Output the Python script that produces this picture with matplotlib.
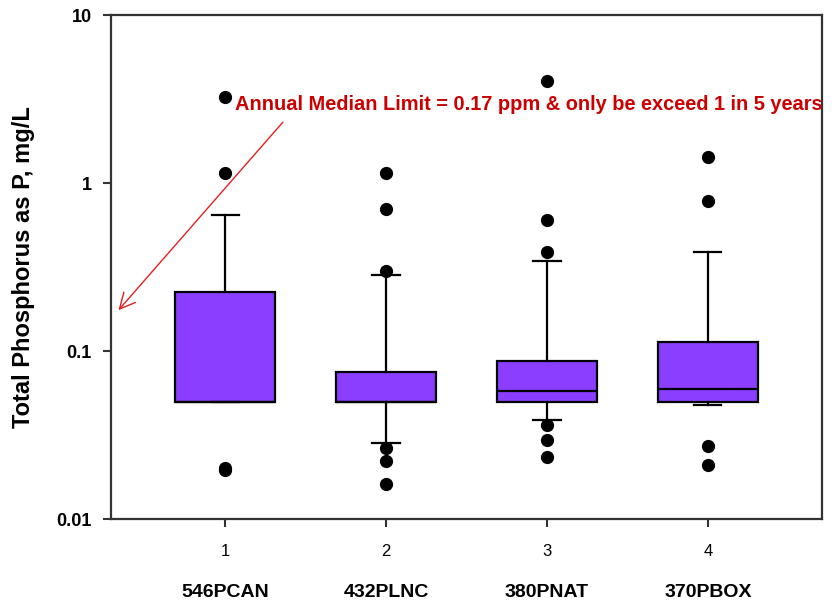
import matplotlib
matplotlib.use("Agg")
import matplotlib.pyplot as plt
from matplotlib.ticker import FixedLocator, FixedFormatter, NullLocator

# ---- data ----
positions = [1, 2, 3, 4]
site_names = ["546PCAN", "432PLNC", "380PNAT", "370PBOX"]
q1 = [0.05, 0.05, 0.05, 0.05]
medians = [0.05, 0.05, 0.058, 0.059]
q3 = [0.225, 0.075, 0.087, 0.113]
whisker_low = [0.05, 0.0285, 0.0388, 0.0477]
whisker_high = [0.643, 0.284, 0.342, 0.39]
fliers = [
    [3.24, 1.14, 0.0196, 0.0200],
    [1.15, 0.703, 0.299, 0.0266, 0.0222, 0.0161],
    [4.06, 0.605, 0.39, 0.0363, 0.0294, 0.0233],
    [1.42, 0.778, 0.0272, 0.0210],
]
ytick_values = [0.01, 0.1, 1, 10]
ytick_labels = ["0.01", "0.1", "1", "10"]
limit_value = 0.17
annotation = "Annual Median Limit = 0.17 ppm & only be exceed 1 in 5 years"

plt.rcParams["font.family"] = ["Liberation Sans", "DejaVu Sans"]

fig = plt.figure(figsize=(8.35, 6.06), dpi=100)
ax = fig.add_axes([111 / 835, 1 - 519 / 606, (822 - 111) / 835, (519 - 15) / 606])

stats = []
for i in range(len(positions)):
    stats.append(dict(med=medians[i], q1=q1[i], q3=q3[i],
                      whislo=whisker_low[i], whishi=whisker_high[i],
                      fliers=fliers[i], label=str(positions[i])))

ax.bxp(stats, positions=positions, widths=0.62, capwidths=0.17,
       patch_artist=True,
       boxprops=dict(facecolor="#8B3EFF", edgecolor="black", linewidth=1.6),
       medianprops=dict(color="black", linewidth=1.6),
       whiskerprops=dict(color="black", linewidth=1.6),
       capprops=dict(color="black", linewidth=1.6),
       flierprops=dict(marker="o", markerfacecolor="black",
                       markeredgecolor="black", markersize=8.5))

ax.set_yscale("log")
ax.set_ylim(0.01, 10)
ax.set_xlim(0.29, 4.71)
ax.yaxis.set_major_locator(FixedLocator(ytick_values))
ax.yaxis.set_major_formatter(FixedFormatter(ytick_labels))
ax.yaxis.set_minor_locator(NullLocator())
ax.set_xticks(positions)
ax.set_xticklabels([str(p) for p in positions])

for lab in ax.get_yticklabels():
    lab.set_fontweight("bold")
    lab.set_fontsize(13)
for lab in ax.get_xticklabels():
    lab.set_fontsize(12)

ax.tick_params(axis="both", direction="out", length=6, width=1.5, color="#333333")
ax.tick_params(axis="y", pad=8)
ax.tick_params(axis="x", pad=12)
for sp in ax.spines.values():
    sp.set_linewidth(1.6)
    sp.set_color("#333333")

ax.set_ylabel("Total Phosphorus as P, mg/L", fontsize=17, fontweight="bold")
ax.yaxis.set_label_coords(-0.107, 0.5)

for x, name in zip(positions, site_names):
    ax.text(x, -0.145, name, transform=ax.get_xaxis_transform(),
            ha="center", va="center", fontsize=14, fontweight="bold")

ax.text(1.06, 2.95, annotation, color="#CC0000", fontsize=14.4,
        fontweight="bold", ha="left", va="center", clip_on=False)
ax.annotate("", xy=(0.325, limit_value), xytext=(1.37, 2.37),
            arrowprops=dict(arrowstyle="->", color="#DD2222", lw=1.0,
                            mutation_scale=28))

fig.savefig("out.png", dpi=100)
